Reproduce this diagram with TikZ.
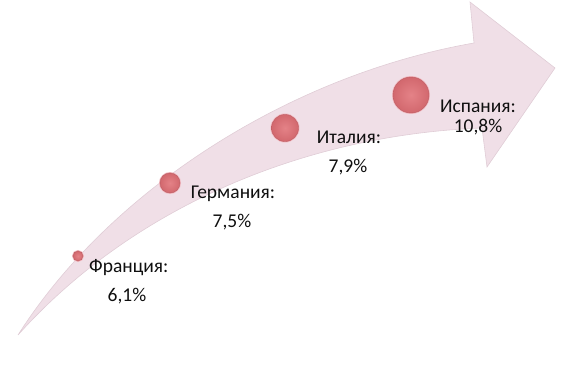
\documentclass[tikz,border=0pt]{standalone}
\usepackage{fontspec}
\setmainfont{Carlito}
\definecolor{arrowfill}{RGB}{240,223,231}
\definecolor{arrowline}{RGB}{224,205,214}
\definecolor{ballin}{RGB}{228,130,135}
\definecolor{ballout}{RGB}{210,104,110}
\definecolor{ballrim}{RGB}{188,92,98}
\definecolor{ballglow}{RGB}{240,185,192}
\definecolor{labeltext}{RGB}{15,15,15}

\begin{document}
\begin{tikzpicture}[x=1pt,y=-1pt,
    big_arrow/.style={fill=arrowfill,draw=arrowline,line width=0.6pt,line join=miter},
    ball/.style={circle,inner sep=0pt,draw=ballrim,line width=0.4pt,inner color=ballin,outer color=ballout,preaction={draw=ballglow,line width=2pt}},
    name_label/.style={font=\fontsize{19.5}{21}\selectfont,text=labeltext,inner sep=0pt,anchor=base},
    value_label/.style={font=\fontsize{19.5}{21}\selectfont,text=labeltext,inner sep=0pt,anchor=base}]
  \useasboundingbox (0,0) rectangle (579,367);
  \coordinate (tail) at (18,335);
  \coordinate (up) at (474,43);
  \coordinate (top) at (470,2);
  \coordinate (tip) at (555,68);
  \coordinate (bot) at (487,167);
  \coordinate (low) at (482,128);
  \draw[big_arrow] (tail) .. controls (110,190) and (290,75) .. (up) -- (top) -- (tip) -- (bot) -- (low) .. controls (300,135) and (130,210) .. (tail) -- cycle;
\node[ball,minimum size=10pt] (0) at (78,256) {};
\node[ball,minimum size=20pt] (1) at (170,183) {};
\node[ball,minimum size=27pt] (2) at (285,128) {};
\node[ball,minimum size=36pt] (3) at (411,95) {};
\node[name_label,anchor=base west] (4) at (89,272) {Франция:};
\node[value_label] (5) at (127,301) {6,1\%};
\node[name_label] (6) at (233,198) {Германия:};
\node[value_label] (7) at (232,227) {7,5\%};
\node[name_label] (8) at (349,143) {Италия:};
\node[value_label] (9) at (348,172) {7,9\%};
\node[name_label] (10) at (478,112) {Испания:};
\node[value_label] (11) at (478,132) {10,8\%};
\end{tikzpicture}
\end{document}
